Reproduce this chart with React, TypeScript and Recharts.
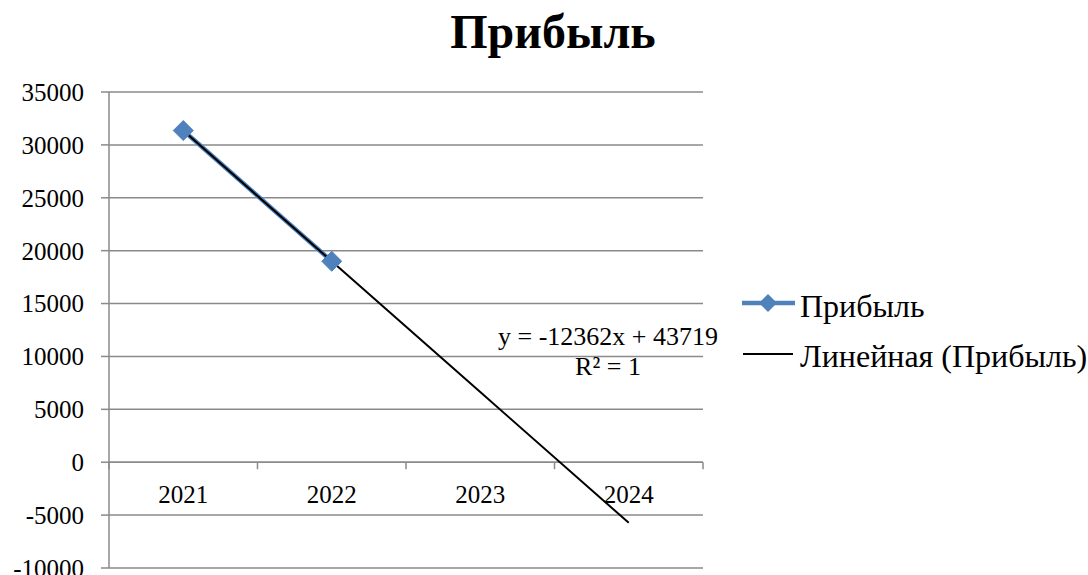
import React from 'react';
import { ComposedChart, Line, XAxis, YAxis, CartesianGrid, ReferenceLine } from 'recharts';

const years = ['2021', '2022', '2023', '2024'];
const profit: (number | null)[] = [31357, 18995, null, null];
const trend = [31357, 18995, 6633, -5729];
const yTicks = [-10000, -5000, 0, 5000, 10000, 15000, 20000, 25000, 30000, 35000];
const title = 'Прибыль';
const seriesName = 'Прибыль';
const trendName = 'Линейная (Прибыль)';
const equation = 'y = -12362x + 43719';
const rSquared = 'R² = 1';

const data = years.map((y, i) => ({ year: y, profit: profit[i], trend: trend[i] }));

const FONT = '"Liberation Serif", "Times New Roman", serif';
const BLUE = '#4F81BD';
const GRID = '#8a8a8a';

const Diamond = (props: any) => {
  const { cx, cy, index } = props;
  if (cx == null || cy == null || props.value == null) return <g key={`d${index}`} />;
  const r = 10;
  return (
    <polygon
      key={`d${index}`}
      points={`${cx},${cy - r} ${cx + r},${cy} ${cx},${cy + r} ${cx - r},${cy}`}
      fill={BLUE}
      stroke={BLUE}
    />
  );
};

const ZeroAxis = (props: any) => {
  const { x1, y1, x2 } = props;
  const n = years.length;
  const step = (x2 - x1) / n;
  const ticks = Array.from({ length: n + 1 }, (_, k) => x1 + k * step);
  return (
    <g>
      <line x1={x1} y1={y1} x2={x2} y2={y1} stroke={GRID} strokeWidth={1.5} />
      {ticks.map((tx, k) => (
        <line key={`t${k}`} x1={tx} y1={y1} x2={tx} y2={y1 + 7} stroke={GRID} strokeWidth={1.5} />
      ))}
      {years.map((yr, i) => (
        <text
          key={`l${i}`}
          x={x1 + (i + 0.5) * step}
          y={y1 + 41}
          textAnchor="middle"
          fontFamily={FONT}
          fontSize={25}
          fill="#000"
        >
          {yr}
        </text>
      ))}
    </g>
  );
};

const LegendBox = () => (
  <div style={{ position: 'absolute', left: 737, top: 281, fontFamily: FONT, fontSize: 32, color: '#000' }}>
    <div style={{ display: 'flex', alignItems: 'center', height: 50 }}>
      <svg width={60} height={24} style={{ display: 'block', position: 'relative', top: -3 }}>
        <line x1={5} y1={12} x2={58} y2={12} stroke={BLUE} strokeWidth={4.5} />
        <polygon points="31,3 40,12 31,21 22,12" fill={BLUE} />
      </svg>
      <span style={{ marginLeft: 3 }}>{seriesName}</span>
    </div>
    <div style={{ display: 'flex', alignItems: 'center', height: 50 }}>
      <svg width={60} height={24} style={{ display: 'block', position: 'relative', top: -2 }}>
        <line x1={6} y1={12} x2={56} y2={12} stroke="#000" strokeWidth={2} />
      </svg>
      <span style={{ marginLeft: 3 }}>{trendName}</span>
    </div>
  </div>
);

export default function App() {
  return (
    <div style={{ position: 'absolute', left: 0, top: 0, width: 1088, height: 575, background: '#fff' }}>
      <div
        style={{
          position: 'absolute',
          left: 0,
          width: 1106,
          top: 2,
          textAlign: 'center',
          fontFamily: FONT,
          fontWeight: 'bold',
          fontSize: 48,
          lineHeight: '60px',
        }}
      >
        {title}
      </div>
      <div
        style={{
          position: 'absolute',
          left: 458,
          width: 300,
          top: 322,
          textAlign: 'center',
          fontFamily: FONT,
          fontSize: 26,
          lineHeight: '30px',
          zIndex: 2,
        }}
      >
        <div>{equation}</div>
        <div>{rSquared}</div>
      </div>
      <LegendBox />
      <ComposedChart
        width={1088}
        height={575}
        data={data}
        margin={{ top: 92, right: 385, bottom: 7, left: 0 }}
      >
        <CartesianGrid horizontal vertical={false} stroke={GRID} strokeWidth={1.5} />
        <XAxis dataKey="year" type="category" scale="band" hide />
        <YAxis
          type="number"
          domain={[-10000, 35000]}
          ticks={yTicks}
          interval={0}
          width={109}
          axisLine={{ stroke: GRID, strokeWidth: 1.5 }}
          tickLine={{ stroke: GRID, strokeWidth: 1.5 }}
          tickSize={8}
          tickMargin={17}
          tick={{ fontFamily: FONT, fontSize: 25, fill: '#000' }}
        />
        <ReferenceLine y={0} shape={ZeroAxis} />
        <Line
          dataKey="profit"
          name={seriesName}
          stroke={BLUE}
          strokeWidth={4.5}
          dot={Diamond}
          activeDot={false}
          connectNulls={false}
          isAnimationActive={false}
        />
        <Line
          dataKey="trend"
          name={trendName}
          stroke="#000"
          strokeWidth={2}
          dot={false}
          activeDot={false}
          isAnimationActive={false}
        />
      </ComposedChart>
    </div>
  );
}
